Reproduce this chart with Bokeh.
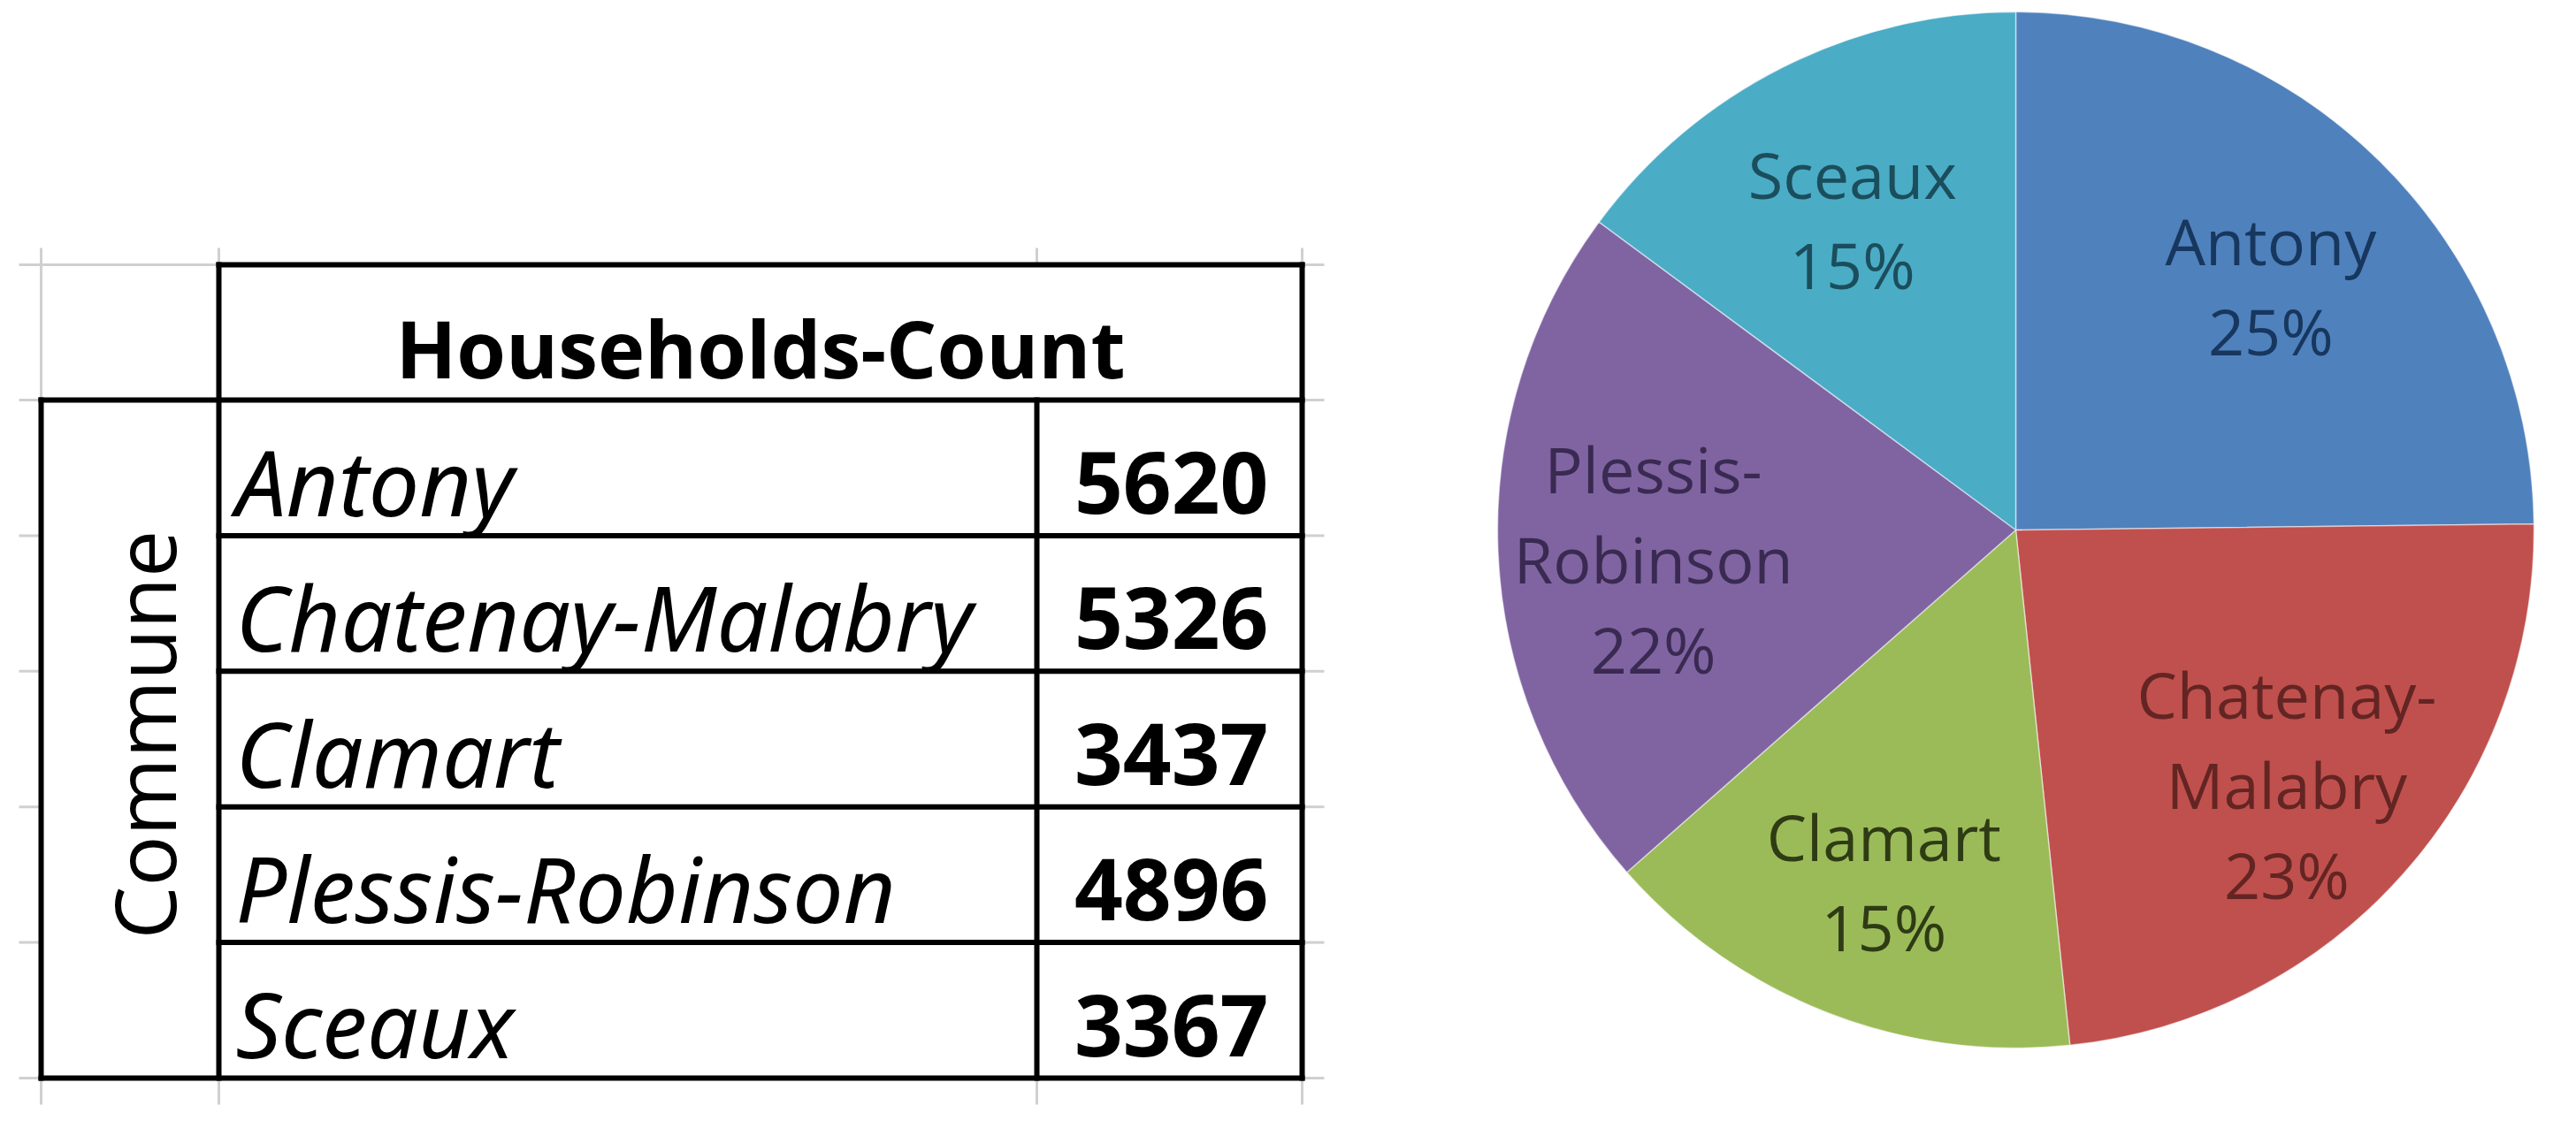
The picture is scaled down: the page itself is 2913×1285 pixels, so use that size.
import numpy as np
from bokeh.plotting import figure
from bokeh.models import Range1d, ColumnDataSource
from bokeh.core.properties import value
from bokeh.embed import file_html
from bokeh.resources import INLINE

# ---------------- data ----------------
communes = ["Antony", "Chatenay-Malabry", "Clamart", "Plessis-Robinson", "Sceaux"]
households = [5620, 5326, 3437, 4896, 3367]
pct_labels = ["25%", "23%", "15%", "22%", "15%"]
header_title = "Households-Count"
row_title = "Commune"

# ---------------- styles ----------------
slice_colors = ["#4F81BD", "#C0504D", "#9BBB59", "#8064A2", "#4BACC6"]
label_colors = ["#17375E", "#632523", "#2E3B14", "#3A2A52", "#1B4E5C"]
FONT = "Open Sans"
FONT_IT = "Noto Sans"
DESC = 0.27   # correction so that the given y is the alphabetic baseline

W, H = 2913, 1285
M = 8


def Y(y):
    # image-row coordinate -> data y (data y grows upwards)
    return H - y


p = figure(width=W - 2 * M, height=H - 2 * M,
           x_range=Range1d(M, W - M), y_range=Range1d(M, H - M),
           output_backend="svg", toolbar_location=None,
           x_axis_type=None, y_axis_type=None,
           min_border=0, min_border_left=0, min_border_right=0,
           min_border_top=0, min_border_bottom=0)
p.grid.visible = False
p.outline_line_color = None
p.background_fill_color = "white"
p.border_fill_color = "white"

# ---------------- table layout ----------------
n = len(communes)
XL, XC, XV, XR = 54, 255, 1180, 1480        # column borders
YT, YHB, YB = 307, 460, 1227                # header top, header bottom, table bottom
row_h = (YB - YHB) / n
row_edges = [YHB + i * row_h for i in range(n + 1)]

# spreadsheet grid (light grey)
gx0, gy0, gx1, gy1 = [], [], [], []
stub = 25
gx0 += [XL - stub, XL]; gy0 += [YT, YT - 19]; gx1 += [XC, XL]; gy1 += [YT, YHB]
for xx in (XC, XV, XR):
    gx0.append(xx); gy0.append(YT - 19); gx1.append(xx); gy1.append(YT)
for yy in row_edges:
    gx0.append(XL - stub); gy0.append(yy); gx1.append(XL); gy1.append(yy)
for yy in [YT] + row_edges:
    gx0.append(XR); gy0.append(yy); gx1.append(XR + stub); gy1.append(yy)
for xx in (XL, XC, XV, XR):
    gx0.append(xx); gy0.append(YB); gx1.append(xx); gy1.append(YB + 30)
p.segment(x0=gx0, y0=[Y(v) for v in gy0], x1=gx1, y1=[Y(v) for v in gy1],
          line_color="#D0D0D0", line_width=3)

# table borders (black)
bx0, by0, bx1, by1 = [], [], [], []
bx0 += [XC]; by0 += [YT]; bx1 += [XR]; by1 += [YT]
bx0 += [XL]; by0 += [YHB]; bx1 += [XR]; by1 += [YHB]
for yy in row_edges[1:-1]:
    bx0.append(XC); by0.append(yy); bx1.append(XR); by1.append(yy)
bx0 += [XL]; by0 += [YB]; bx1 += [XR]; by1 += [YB]
bx0 += [XL]; by0 += [YHB]; bx1 += [XL]; by1 += [YB]
bx0 += [XC]; by0 += [YT]; bx1 += [XC]; by1 += [YB]
bx0 += [XV]; by0 += [YHB]; bx1 += [XV]; by1 += [YB]
bx0 += [XR]; by0 += [YT]; bx1 += [XR]; by1 += [YB]
p.segment(x0=bx0, y0=[Y(v) for v in by0], x1=bx1, y1=[Y(v) for v in by1],
          line_color="black", line_width=6, line_cap="square")

# header text
fs_h = 90
p.text(x=[(XC + XR) / 2], y=[Y(425) + DESC * fs_h], text=[header_title],
       text_font=value(FONT), text_font_style="bold", text_font_size=value(f"{fs_h}px"),
       text_align="center", text_baseline="alphabetic", text_color="black")

# row title (rotated, baseline on the right)
fs_c = 95
p.text(x=[195 - DESC * fs_c], y=[Y((YHB + YB) / 2 - 5)], text=[row_title], angle=np.pi / 2,
       text_font=value(FONT), text_font_size=value(f"{fs_c}px"),
       text_align="center", text_baseline="alphabetic", text_color="black")

# names and values
fs_n, fs_v = 102, 96
baselines = [row_edges[i + 1] - 34 for i in range(n)]
tsrc = ColumnDataSource(dict(
    xn=[274] * n, xv=[1442] * n,
    yn=[Y(b) + DESC * fs_n for b in baselines],
    yv=[Y(b) + DESC * fs_v for b in baselines],
    name=communes, val=[str(v) for v in households]))
p.text(x="xn", y="yn", text="name", source=tsrc,
       text_font=value(FONT_IT), text_font_style="italic", text_font_size=value(f"{fs_n}px"),
       text_align="left", text_baseline="alphabetic", text_color="black")
p.text(x="xv", y="yv", text="val", source=tsrc,
       text_font=value(FONT), text_font_style="bold", text_font_size=value(f"{fs_v}px"),
       text_align="right", text_baseline="alphabetic", text_color="black")

# ---------------- pie ----------------
CX, CY, R = 2287, 607, 586
vals = np.array(households, dtype=float)
frac = vals / vals.sum()
cum = np.concatenate([[0.0], np.cumsum(frac)])
starts = np.pi / 2 - cum[:-1] * 2 * np.pi
ends = np.pi / 2 - cum[1:] * 2 * np.pi
mids = (starts + ends) / 2
RL = 0.70 * R
LBL_DROP = 15
pie_text = [c.replace("-", "-\n") + "\n" + pc for c, pc in zip(communes, pct_labels)]
psrc = ColumnDataSource(dict(
    start=starts, end=ends, color=slice_colors,
    lx=CX + RL * np.cos(mids), ly=Y(CY) + RL * np.sin(mids) - LBL_DROP,
    label=pie_text, tcolor=label_colors))
p.wedge(x=CX, y=Y(CY), radius=R, start_angle="start", end_angle="end",
        direction="clock", fill_color="color", line_color="white",
        line_width=1.5, line_alpha=0.5, source=psrc)
p.text(x="lx", y="ly", text="label", source=psrc,
       text_font=value(FONT), text_font_size=value("72px"),
       text_line_height=1.04,
       text_align="center", text_baseline="middle", text_color="tcolor")

open("out.html", "w").write(file_html(p, INLINE))
